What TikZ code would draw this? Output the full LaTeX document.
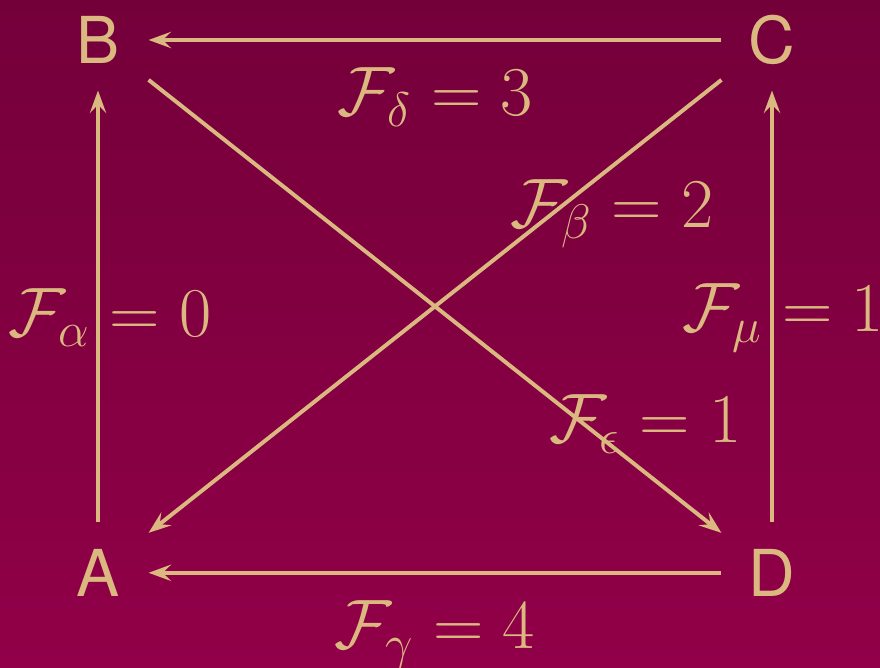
\documentclass[tikz,border=0pt]{standalone}
\usepackage{fontspec}
\setsansfont{TeX Gyre Heros}
\usetikzlibrary{arrows.meta, positioning}
\definecolor{winetop}{RGB}{116,0,58}
\definecolor{winebottom}{RGB}{145,0,72}
\definecolor{sand}{RGB}{218,184,128}

\begin{document}
\begin{tikzpicture}[
		vertex/.style={minimum size=1.25cm, inner sep=0pt, text=sand, font=\fontsize{23}{28}\selectfont\sffamily},
		flow/.style={draw=sand, line width=1.4pt, -{Stealth[length=8pt, width=5.8pt, inset=3pt]}},
		weight/.style={text=sand, font=\fontsize{23}{28}\selectfont}
	]
		% Background and viewing box
		\shade[top color=winetop, bottom color=winebottom] (0,0) rectangle (11,8.35);
		\useasboundingbox (0,0) rectangle (11,8.35);
		
		% 1. Vertices
		\node[vertex] (B) at (1.225, 7.85) {B};
		\node[vertex] (C) at (9.65, 7.85) {C};
		\node[vertex] (A) at (1.225, 1.19) {A};
		\node[vertex] (D) at (9.65, 1.19) {D};
		
		% 2. Edges with their flow values
		\draw[flow] (C) -- (B) node[weight, midway, below=6pt] (fdelta) {$\mathcal{F}_\delta = 3$};
		\draw[flow] (D) -- (A) node[weight, midway, below=6pt] (fgamma) {$\mathcal{F}_\gamma = 4$};
		\draw[flow] (A) -- (B) node[weight, midway, xshift=0.15cm, yshift=-0.14cm] (falpha) {$\mathcal{F}_\alpha = 0$};
		\draw[flow] (D) -- (C) node[weight, midway, xshift=0.14cm, yshift=-0.14cm] (fmu) {$\mathcal{F}_\mu = 1$};
		
		% Diagonals
		\draw[flow] (C) -- (A) node[weight, pos=0.29, xshift=0.71cm, yshift=-0.03cm] (fbeta) {$\mathcal{F}_\beta = 2$};
		\draw[flow] (B) -- (D) node[weight, pos=0.76, xshift=0.77cm] (fepsilon) {$\mathcal{F}_\epsilon = 1$};
		
	\end{tikzpicture}
\end{document}
